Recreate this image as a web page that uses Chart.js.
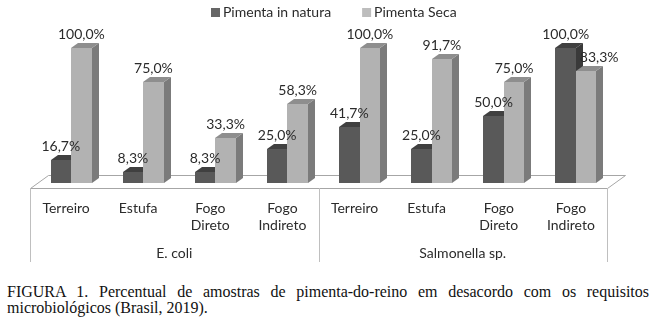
<!DOCTYPE html>
<html>
<head>
<meta charset="utf-8">
<script src="https://cdn.jsdelivr.net/npm/chart.js@4.4.0/dist/chart.umd.min.js"></script>
<style>
  html, body { margin: 0; padding: 0; background: #fff; }
  #wrap { position: relative; width: 657px; height: 322px; overflow: hidden; }
  #chartBox { position: absolute; left: 0; top: 0; width: 657px; height: 270px; }
  #caption {
    position: absolute; left: 7px; top: 284px; width: 642px;
    font-family: "Liberation Serif", "Times New Roman", serif;
    font-size: 16px; line-height: 15.6px; color: #111;
  }
  #caption .l1 { text-align: justify; text-align-last: justify; }
</style>
</head>
<body>
<div id="wrap">
  <div id="chartBox"><canvas id="figChart" width="657" height="270"></canvas></div>
  <div id="caption">
    <div class="l1">FIGURA 1. Percentual de amostras de pimenta-do-reino em desacordo com os requisitos</div>
    <div>microbiológicos (Brasil, 2019).</div>
  </div>
</div>
<script>
// =========================
// DONNÉES
// =========================
const categories = [
  ["Terreiro"], ["Estufa"], ["Fogo", "Direto"], ["Fogo", "Indireto"],
  ["Terreiro"], ["Estufa"], ["Fogo", "Direto"], ["Fogo", "Indireto"],
];
const groups = ["E. coli", "Salmonella sp."];
const inNatura = [16.7, 8.3, 8.3, 25.0, 41.7, 25.0, 50.0, 100.0];
const seca = [100.0, 75.0, 33.3, 58.3, 100.0, 91.7, 75.0, 83.3];

const FONT = "Lato, 'Open Sans', sans-serif";
const TEXT = "#2b2b2b";

// couleurs des faces : avant / dessus / côté
const faces = [
  { front: "#595959", top: "#404040", side: "#3a3a3a" },
  { front: "#b2b2b2", top: "#8e8e8e", side: "#7b7b7b" },
];

// profondeur 3D
const BAR_DX = 7, BAR_DY = 5;   // épaisseur des barres
const SHIFT_X = 5, SHIFT_Y = -5; // barres un peu en retrait du bord avant
const FLOOR_DX = 18, FLOOR_DY = 13;
const AXIS_H = 74;

const fmt = (v) => v.toFixed(1).replace(".", ",") + "%";

// =========================
// PLUGIN 3D
// =========================
const bars3d = {
  id: "bars3d",
  beforeDatasetsDraw(chart) {
    const { ctx, chartArea } = chart;
    const { left, right, bottom } = chartArea;

    // sol
    ctx.save();
    ctx.beginPath();
    ctx.moveTo(left + 0.5, bottom + 0.5);
    ctx.lineTo(right + 0.5, bottom + 0.5);
    ctx.lineTo(right + FLOOR_DX + 0.5, bottom - FLOOR_DY + 0.5);
    ctx.lineTo(left + FLOOR_DX + 0.5, bottom - FLOOR_DY + 0.5);
    ctx.closePath();
    ctx.fillStyle = "#ffffff";
    ctx.fill();
    ctx.strokeStyle = "#a6a6a6";
    ctx.lineWidth = 1;
    ctx.stroke();

    // barres : série 1 puis série 2 (la seconde recouvre le côté de la première)
    chart.data.datasets.forEach((ds, di) => {
      const meta = chart.getDatasetMeta(di);
      const c = faces[di];
      meta.data.forEach((el) => {
        const { x, y, base, width } = el.getProps(["x", "y", "base", "width"], true);
        const x0 = Math.round(x - width / 2 + SHIFT_X);
        const x1 = Math.round(x + width / 2 + SHIFT_X);
        const yT = Math.round(y + SHIFT_Y);
        const yB = Math.round(base + SHIFT_Y);

        ctx.fillStyle = c.side;
        ctx.beginPath();
        ctx.moveTo(x1, yB);
        ctx.lineTo(x1 + BAR_DX, yB - BAR_DY);
        ctx.lineTo(x1 + BAR_DX, yT - BAR_DY);
        ctx.lineTo(x1, yT);
        ctx.closePath();
        ctx.fill();

        ctx.fillStyle = c.top;
        ctx.beginPath();
        ctx.moveTo(x0, yT);
        ctx.lineTo(x0 + BAR_DX, yT - BAR_DY);
        ctx.lineTo(x1 + BAR_DX, yT - BAR_DY);
        ctx.lineTo(x1, yT);
        ctx.closePath();
        ctx.fill();

        ctx.fillStyle = c.front;
        ctx.fillRect(x0, yT, x1 - x0, yB - yT);
      });
    });
    ctx.restore();
    return false; // on dessine nous-mêmes
  },
  afterDraw(chart) {
    const { ctx, chartArea, scales } = chart;
    const { left, right, bottom } = chartArea;
    const xs = scales.x;

    ctx.save();
    // cadre de l'axe multi-niveaux
    const mid = (xs.getPixelForValue(3) + xs.getPixelForValue(4)) / 2;
    ctx.strokeStyle = "#bfbfbf";
    ctx.lineWidth = 1;
    [left, mid, right].forEach((px) => {
      const p = Math.round(px) + 0.5;
      ctx.beginPath();
      ctx.moveTo(p, bottom);
      ctx.lineTo(p, bottom + AXIS_H);
      ctx.stroke();
    });

    // étiquettes de groupe
    ctx.font = "14px " + FONT;
    ctx.fillStyle = TEXT;
    ctx.textAlign = "center";
    ctx.textBaseline = "alphabetic";
    ctx.fillText(groups[0], (left + mid) / 2, bottom + 70);
    ctx.fillText(groups[1], (mid + right) / 2, bottom + 70);

    // étiquettes de valeurs
    const m0 = chart.getDatasetMeta(0);
    const m1 = chart.getDatasetMeta(1);
    [m0, m1].forEach((meta, di) => {
      const data = chart.data.datasets[di].data;
      meta.data.forEach((el, i) => {
        let cx = el.x + SHIFT_X;
        // si la barre voisine (gauche) est plus haute, on décale le texte
        if (di === 1 && inNatura[i] > seca[i]) cx += 13;
        ctx.fillText(fmt(data[i]), cx, el.y + SHIFT_Y - 9);
      });
    });

    // légende
    const items = chart.data.datasets.map((ds) => ({
      label: ds.label,
      color: ds.legendColor,
      w: ctx.measureText(ds.label).width,
    }));
    const box = 9, gap = 3, spacing = 31;
    const total = items.reduce((s, it) => s + box + gap + it.w, 0) + spacing;
    let lx = Math.round(334 - total / 2);
    ctx.textAlign = "left";
    items.forEach((it) => {
      ctx.fillStyle = it.color;
      ctx.fillRect(lx, 8, box, box);
      ctx.fillStyle = TEXT;
      ctx.fillText(it.label, lx + box + gap, 17);
      lx += box + gap + it.w + spacing;
    });
    ctx.restore();
  },
};

// =========================
// GRAPHIQUE
// =========================
const ctx = document.getElementById("figChart").getContext("2d");
new Chart(ctx, {
  type: "bar",
  data: {
    labels: categories,
    datasets: [
      { label: "Pimenta in natura", data: inNatura, backgroundColor: faces[0].front, legendColor: "#666666" },
      { label: "Pimenta Seca", data: seca, backgroundColor: faces[1].front, legendColor: "#bdbdbd" },
    ],
  },
  options: {
    responsive: false,
    animation: false,
    categoryPercentage: 0.57,
    barPercentage: 1,
    layout: { padding: { top: 53, left: 30, right: 50, bottom: 8 } },
    plugins: {
      legend: { display: false },
      tooltip: { enabled: false },
    },
    scales: {
      x: {
        grid: { display: false, drawTicks: false },
        border: { display: false },
        ticks: {
          font: { family: FONT, size: 14 },
          color: TEXT,
          padding: 12,
          maxRotation: 0,
          autoSkip: false,
        },
        afterFit: (scale) => { scale.height = AXIS_H; },
      },
      y: { display: false, min: 0, max: 100 },
    },
  },
  plugins: [bars3d],
});
</script>
</body>
</html>
